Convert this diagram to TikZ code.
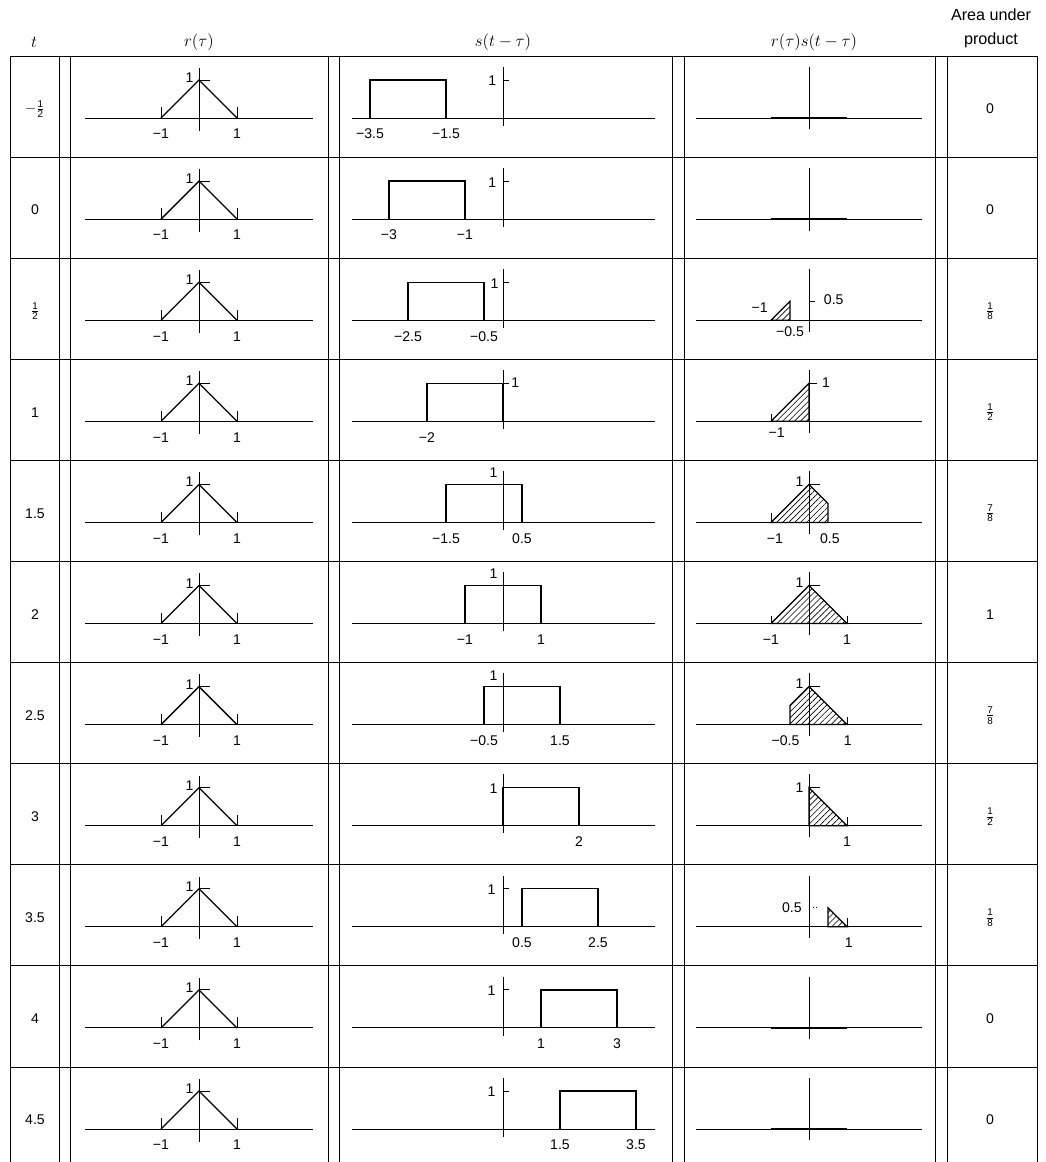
\documentclass[tikz,border=0pt]{standalone}
\usepackage{amsmath}
\usepackage{fontspec}
\setmainfont{Liberation Sans}
\usetikzlibrary{patterns.meta}
\newcommand\frc[2]{\frac{\text{#1}}{\text{#2}}}
\tikzset{
  rule/.style={line width=0.7pt},
  axisl/.style={line width=0.6pt},
  sig/.style={line width=0.9pt},
  zero/.style={line width=1.8pt},
  hatched/.style={sig, pattern={Lines[angle=45,distance=3pt,line width=0.45pt]}},
  lbl/.style={inner sep=0.5pt, font=\fontsize{10}{12}\selectfont},
  head/.style={inner sep=1pt, font=\fontsize{11.5}{17}\selectfont},
  rcell/.style={shift={(199,{118+101.1*(#1-1)})}, x=9.5mm, y=9.5mm},
  scell/.style={shift={(503,{118+101.1*(#1-1)})}, x=9.5mm, y=9.5mm},
  pcell/.style={shift={(809,{118+101.1*(#1-1)})}, x=9.5mm, y=9.5mm}
}

\begin{document}
\begin{tikzpicture}[x=0.25mm, y=-0.25mm]
\useasboundingbox (0,0) rectangle (1045,1162);
% column heads
\node[head] (hT) at (34,42) {$t$};
\node[head] (hR) at (199,42) {$r(\tau)$};
\node[head] (hS) at (503,42) {$s(t-\tau)$};
\node[head] (hP) at (814,42) {$r(\tau)s(t-\tau)$};
\node[head, align=center] (hA) at (991,28) {Area under\\product};

% table rules
\foreach \k in {0,...,10}
  \draw[rule] (10,{56+101.1*\k}) -- (1037,{56+101.1*\k});
\foreach \x in {10,59,70,328,339,672,684,935,947,1037}
  \draw[rule] (\x,56) -- (\x,1162);

% t, r(tau), s(t-tau) and area, row by row
\foreach \i/\tl/\sa/\sb/\la/\lb/\ox/\oy/\ar in {
  1/{$-\frc{1}{2}$}/-3.5/-1.5/{−3.5}/{−1.5}/-0.28/0.97/0,
  2/0/-3/-1/{−3}/{−1}/-0.28/0.97/0,
  3/{$\frc{1}{2}$}/-2.5/-0.5/{−2.5}/{−0.5}/-0.22/0.97/{$\frc{1}{8}$},
  4/1/-2/0/{−2}/{}/0.32/1.02/{$\frc{1}{2}$},
  5/1.5/-1.5/0.5/{−1.5}/{0.5}/-0.25/1.3/{$\frc{7}{8}$},
  6/2/-1/1/{−1}/{1}/-0.25/1.3/1,
  7/2.5/-0.5/1.5/{−0.5}/{1.5}/-0.25/1.3/{$\frc{7}{8}$},
  8/3/0/2/{}/{2}/-0.25/0.97/{$\frc{1}{2}$},
  9/3.5/0.5/2.5/{0.5}/{2.5}/-0.3/0.97/{$\frc{1}{8}$},
  10/4/1/3/{1}/{3}/-0.3/0.97/0,
  11/4.5/1.5/3.5/{1.5}/{3.5}/-0.3/0.97/0}{
  \node[lbl] (t\i) at (35,{109+101.1*(\i-1)}) {\tl};
  \node[lbl] (area\i) at (990,{109+101.1*(\i-1)}) {\ar};
  \begin{scope}[rcell=\i]
    \draw[axisl] (-3,0) -- (3,0) (0,-0.33) -- (0,1.32) (0,1) -- (0.3,1)
      (-1,0) -- (-1,0.28) (1,0) -- (1,0.28);
    \draw[sig] (-1,0) -- (0,1) -- (1,0);
    \node[lbl] (rOne\i) at (-0.25,1.06) {1};
    \node[lbl] (rL\i) at (-1,-0.42) {−1};
    \node[lbl] (rR\i) at (1,-0.42) {1};
  \end{scope}
  \begin{scope}[scell=\i]
    \draw[axisl] (-3.97,0) -- (4,0) (0,-0.2) -- (0,1.35) (0,1) -- (0.15,1);
    \draw[sig] (\sa,0) -- (\sa,1) -- (\sb,1) -- (\sb,0);
    \node[lbl] (sOne\i) at (\ox,\oy) {1};
    \node[lbl] (sL\i) at (\sa,-0.42) {\la};
    \node[lbl] (sR\i) at (\sb,-0.42) {\lb};
  \end{scope}
  \draw[pcell=\i, axisl] (-2.97,0) -- (2.97,0) (0,-0.3) -- (0,1.35);
}

% product r(tau)s(t-tau)
\foreach \i in {1,2,10,11}
  \draw[pcell=\i, zero] (-1,0) -- (1,0);
\begin{scope}[pcell=3]
  \draw[hatched] (-1,0) -- (-0.5,0.5) -- (-0.5,0) -- cycle;
  \draw[axisl] (0,0.5) -- (0.15,0.5);
  \node[lbl] (pA3) at (-1.3,0.34) {−1};
  \node[lbl] (pB3) at (-0.5,-0.3) {−0.5};
  \node[lbl] (pC3) at (0.65,0.55) {0.5};
\end{scope}
\begin{scope}[pcell=4]
  \draw[hatched] (-1,0) -- (0,1) -- (0,0) -- cycle;
  \draw[axisl] (0,1) -- (0.2,1) (-1,0) -- (-1,0.2);
  \node[lbl] (pA4) at (0.45,1.02) {1};
  \node[lbl] (pB4) at (-0.85,-0.3) {−1};
\end{scope}
\begin{scope}[pcell=5]
  \draw[hatched] (-1,0) -- (0,1) -- (0.5,0.5) -- (0.5,0) -- cycle;
  \draw[axisl] (0,1) -- (0.3,1) (-1,0) -- (-1,0.25);
  \node[lbl] (pA5) at (-0.25,1.08) {1};
  \node[lbl] (pB5) at (-0.9,-0.42) {−1};
  \node[lbl] (pC5) at (0.55,-0.42) {0.5};
\end{scope}
\begin{scope}[pcell=6]
  \draw[hatched] (-1,0) -- (0,1) -- (1,0) -- cycle;
  \draw[axisl] (0,1) -- (0.3,1) (-1,0) -- (-1,0.2) (1,0) -- (1,0.2);
  \node[lbl] (pA6) at (-0.25,1.08) {1};
  \node[lbl] (pB6) at (-1,-0.42) {−1};
  \node[lbl] (pC6) at (1,-0.42) {1};
\end{scope}
\begin{scope}[pcell=7]
  \draw[hatched] (-0.5,0) -- (-0.5,0.5) -- (0,1) -- (1,0) -- cycle;
  \draw[axisl] (0,1) -- (0.3,1) (1,0) -- (1,0.2);
  \node[lbl] (pA7) at (-0.25,1.08) {1};
  \node[lbl] (pB7) at (-0.62,-0.42) {−0.5};
  \node[lbl] (pC7) at (1.02,-0.42) {1};
\end{scope}
\begin{scope}[pcell=8]
  \draw[hatched] (0,0) -- (0,1) -- (1,0) -- cycle;
  \draw[axisl] (0,1) -- (0.3,1) (1,0) -- (1,0.22);
  \node[lbl] (pA8) at (-0.25,1.0) {1};
  \node[lbl] (pB8) at (1,-0.42) {1};
\end{scope}
\begin{scope}[pcell=9]
  \draw[hatched] (0.5,0) -- (0.5,0.5) -- (1,0) -- cycle;
  \draw[axisl, dotted] (0,0.5) -- (0.22,0.5);
  \draw[axisl] (1,0) -- (1,0.22);
  \node[lbl] (pA9) at (-0.45,0.5) {0.5};
  \node[lbl] (pB9) at (1.05,-0.42) {1};
\end{scope}
\end{tikzpicture}
\end{document}
